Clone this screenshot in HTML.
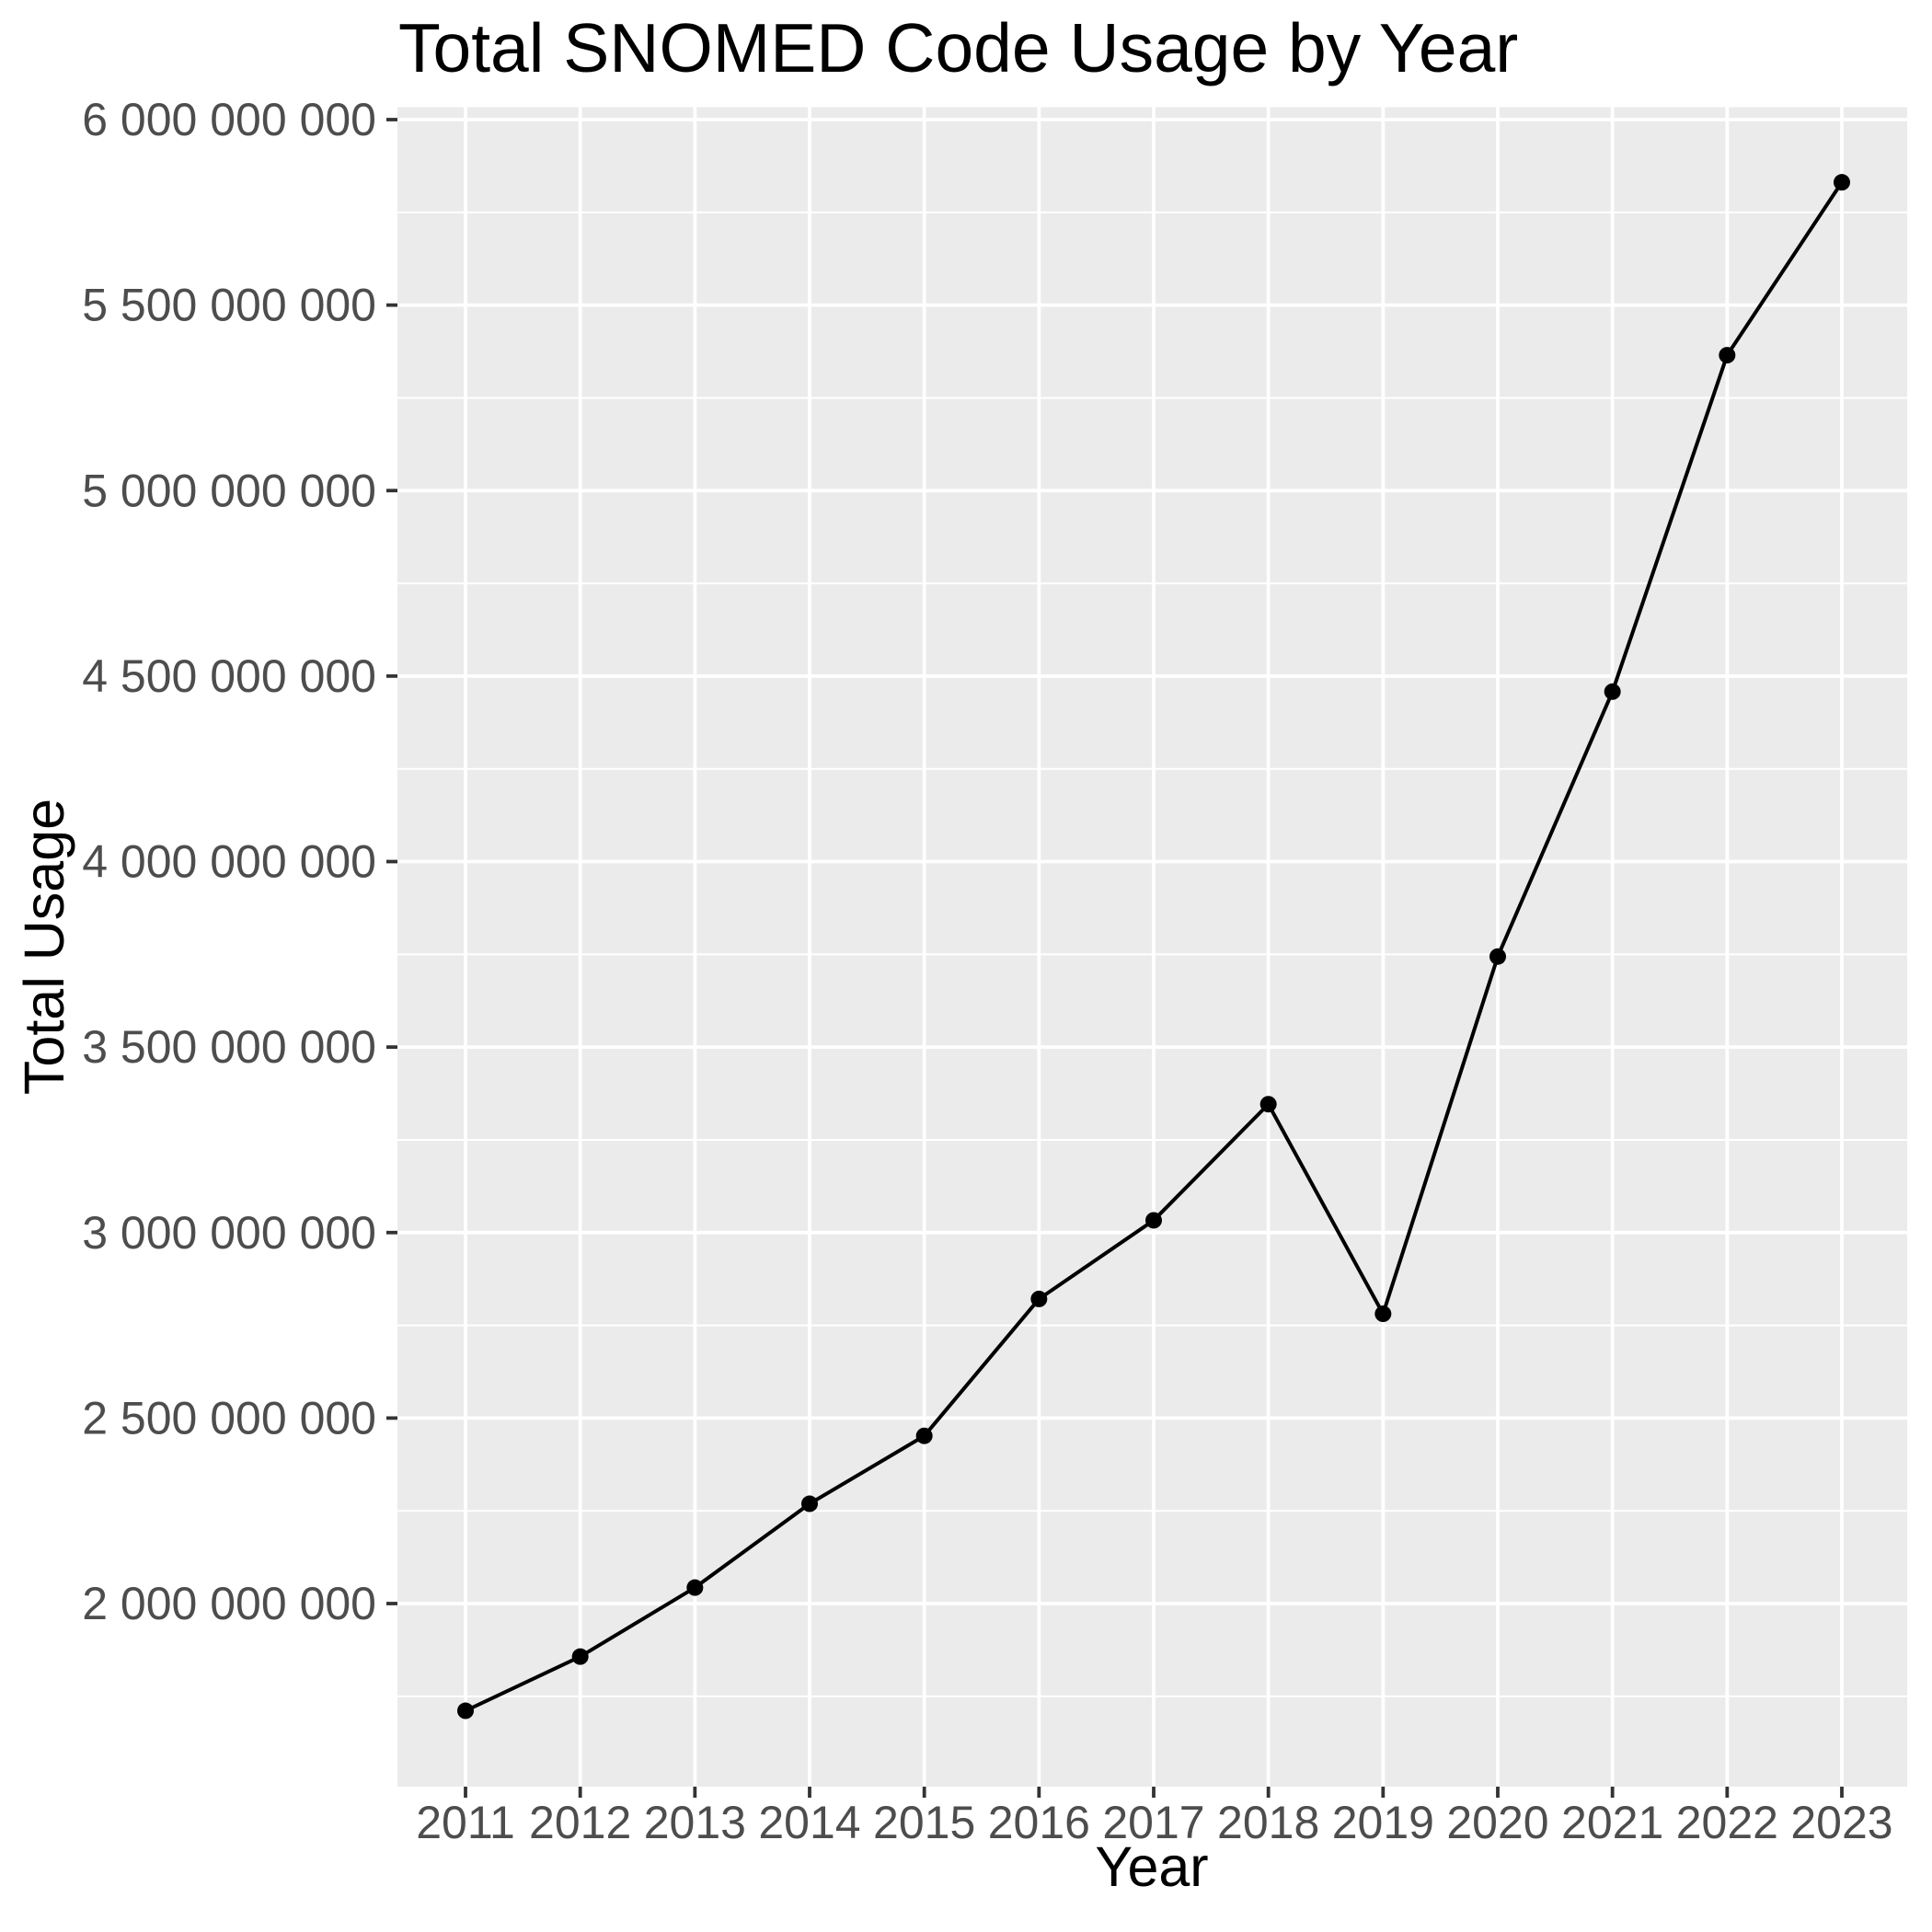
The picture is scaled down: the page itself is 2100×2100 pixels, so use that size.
<!DOCTYPE html>
<html><head><meta charset="utf-8"><style>
html,body{margin:0;padding:0;background:#fff;}
svg{display:block;font-family:"Liberation Sans",Arial,sans-serif;}
</style></head><body>
<svg id="chart" width="2100" height="2100" viewBox="0 0 2100 2100" xmlns="http://www.w3.org/2000/svg">
<text x="433" y="78" font-size="75" fill="#000">Total SNOMED Code Usage by Year</text>
<rect x="432" y="116.5" width="1641" height="1825.5" fill="#ebebeb"/>
<g id="grid"></g>
<g id="axes"></g>
<g id="series"></g>
<text x="1252" y="2050" font-size="61" text-anchor="middle" fill="#000">Year</text>
<text transform="translate(48,1029) rotate(-90)" font-size="61" text-anchor="middle" dominant-baseline="central" fill="#000">Total Usage</text>
</svg>
<script>
const years = [2011,2012,2013,2014,2015,2016,2017,2018,2019,2020,2021,2022,2023];
const usage = [1.711e9,1.857e9,2.043e9,2.269e9,2.452e9,2.821e9,3.033e9,3.346e9,2.781e9,3.744e9,4.458e9,5.365e9,5.831e9];
const yTicks = [2e9,2.5e9,3e9,3.5e9,4e9,4.5e9,5e9,5.5e9,6e9];
const yTickLabels = ["2 000 000 000","2 500 000 000","3 000 000 000","3 500 000 000","4 000 000 000","4 500 000 000","5 000 000 000","5 500 000 000","6 000 000 000"];
const yMinor = [1.75e9,2.25e9,2.75e9,3.25e9,3.75e9,4.25e9,4.75e9,5.25e9,5.75e9];

const NS="http://www.w3.org/2000/svg";
const PL=432,PR=2073,PT=116.5,PB=1942;
function xScale(yr){return 506+(yr-2011)*(2002-506)/12;}
function yScale(v){return 1743-(v-2e9)*(1743-130)/4e9;}
function mk(tag,attrs,parent){const e=document.createElementNS(NS,tag);for(const k in attrs)e.setAttribute(k,attrs[k]);parent.appendChild(e);return e;}
const grid=document.getElementById('grid'),axes=document.getElementById('axes'),series=document.getElementById('series');
yMinor.forEach(v=>{const l=mk('line',{x1:PL,x2:PR,y1:yScale(v),y2:yScale(v),stroke:'#fff','stroke-width':2},grid);

});
yTicks.forEach((v,i)=>{const y=yScale(v);
const l=mk('line',{x1:PL,x2:PR,y1:y,y2:y,stroke:'#fff','stroke-width':3.8},grid);


const t=mk('line',{x1:420,x2:PL,y1:y,y2:y,stroke:'#333','stroke-width':3.8},axes);


const tx=mk('text',{x:409,y:y+17,'font-size':50,'text-anchor':'end',fill:'#4d4d4d'},axes);tx.textContent=yTickLabels[i];

});
years.forEach(yr=>{const x=xScale(yr);
const l=mk('line',{x1:x,x2:x,y1:PT,y2:PB,stroke:'#fff','stroke-width':3.8},grid);


const t=mk('line',{x1:x,x2:x,y1:PB,y2:PB+12,stroke:'#333','stroke-width':3.8},axes);


const tx=mk('text',{x:x,y:1998,'font-size':50,'text-anchor':'middle',fill:'#4d4d4d'},axes);tx.textContent=String(yr);

});
const pts=years.map((yr,i)=>xScale(yr)+','+yScale(usage[i])).join(' ');
const pl=mk('polyline',{points:pts,fill:'none',stroke:'#000','stroke-width':4,'stroke-linejoin':'round'},series);


years.forEach((yr,i)=>{const c=mk('circle',{cx:xScale(yr),cy:yScale(usage[i]),r:9,fill:'#000'},series);

});
</script>
</body></html>
